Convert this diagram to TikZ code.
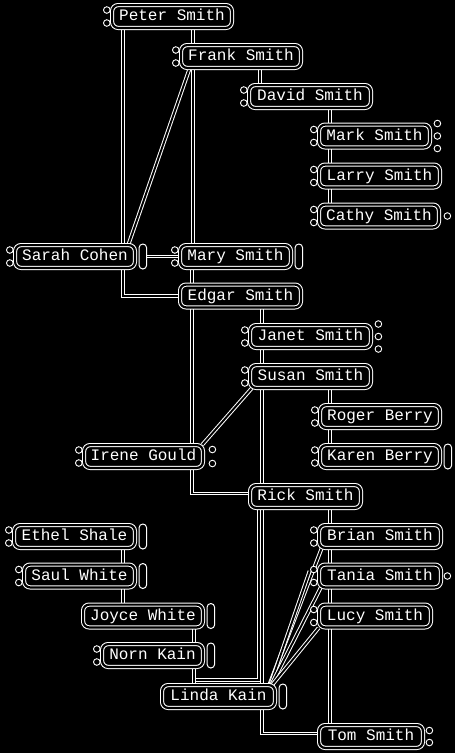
\documentclass[tikz,border=0pt]{standalone}
\usepackage{fontspec}
\newfontfamily\namefont{Liberation Mono}
\usetikzlibrary{positioning}
\usetikzlibrary{calc}
\usetikzlibrary{backgrounds}
\tikzset{
  % A person: double outlined rounded box
  person/.style={
    draw=white, double=black, double distance=2.2pt, line width=1pt,
    fill=black, rounded corners=6pt, inner sep=0pt, text=white,
    font=\namefont\fontsize{16}{18}\selectfont, text height=11pt, text depth=3pt,
    minimum height=22.8pt, minimum width=#1},
  person/.default=120pt,
  % The small rounded bar right of a box
  tab/.style={
    draw=white, line width=1pt, fill=black, rounded corners=3.7pt,
    inner sep=0pt, minimum width=7.5pt, minimum height=25pt},
  % The small circles beside a box
  knob/.style={draw=white, fill=black, line width=0.9pt},
  % Family links
  link/.style={draw=white, double=black, double distance=1.9pt, line width=1pt},
}
\newcommand{\knobsleft}[1]{%
  \draw[knob] ([xshift=-4.8pt,yshift=6.5pt]#1.west) circle (3.3pt);
  \draw[knob] ([xshift=-4.8pt,yshift=-6.5pt]#1.west) circle (3.3pt);}
\newcommand{\knobsright}[3]{%
  \foreach \dy in {#3} \draw[knob] ([xshift=#2,yshift=\dy pt]#1.east) circle (3.3pt);}

\begin{document}
\begin{tikzpicture}[x=1pt, y=-1pt]

  \useasboundingbox (0,0) rectangle (455,753);

  % people
  \node[person=119.8pt] (peter) at (172,16.5)   {Peter Smith};
  \node[person=119.8pt] (frank) at (241,56.5)   {Frank Smith};
  \node[person=121.8pt] (david) at (310,96.5)   {David Smith};
  \node[person=110.8pt] (mark)  at (374.5,136)  {Mark Smith};
  \node[person=120.8pt] (larry) at (379.5,176)  {Larry Smith};
  \node[person=119.8pt] (cathy) at (379,216)    {Cathy Smith};
  \node[person=119.8pt] (sarah) at (75,256.5)   {Sarah Cohen};
  \node[person=110.8pt] (mary)  at (235.5,256.5){Mary Smith};
  \node[person=120.8pt] (edgar) at (240.5,296)  {Edgar Smith};
  \node[person=120.8pt] (janet) at (310.5,336.5){Janet Smith};
  \node[person=120.8pt] (susan) at (310.5,376.5){Susan Smith};
  \node[person=119.8pt] (roger) at (380,416.5)  {Roger Berry};
  \node[person=119.8pt] (karen) at (380,456.5)  {Karen Berry};
  \node[person=118.8pt] (irene) at (143.5,456.5){Irene Gould};
  \node[person=110.8pt] (rick)  at (305.5,496.5){Rick Smith};
  \node[person=120.8pt] (ethel) at (74.5,536.5) {Ethel Shale};
  \node[person=110.8pt] (saul)  at (79.5,576)   {Saul White};
  \node[person=119.8pt] (joyce) at (143,616)    {Joyce White};
  \node[person=100.8pt] (norn)  at (152.5,655.5){Norn Kain};
  \node[person=112.8pt] (linda) at (218.5,696.5){Linda Kain};
  \node[person=121.8pt] (brian) at (380,536.5)  {Brian Smith};
  \node[person=121.8pt] (tania) at (380,576)    {Tania Smith};
  \node[person=111.8pt] (lucy)  at (375,616)    {Lucy Smith};
  \node[person=103.8pt] (tom)   at (371,736.5)  {Tom Smith};

  \node[tab, right=3.2pt of sarah] (sarahtab) {};
  \node[tab, right=3.2pt of mary]  (marytab)  {};
  \node[tab, right=3.2pt of karen] (karentab) {};
  \node[tab, right=3.2pt of ethel] (etheltab) {};
  \node[tab, right=3.2pt of saul]  (saultab)  {};
  \node[tab, right=3.2pt of joyce] (joycetab) {};
  \node[tab, right=3.2pt of norn]  (norntab)  {};
  \node[tab, right=3.2pt of linda] (lindatab) {};

  \begin{scope}[on background layer]
    \fill[black] (0,0) rectangle (455,753);

    % links
    \draw[link] ([xshift=12pt]frank.north west) -- ([xshift=12pt]frank.north west |- peter.south);
    \draw[link] ([xshift=11pt]peter.south west) |- (edgar.west);
    \draw[link] ([xshift=11pt]david.north west) -- ([xshift=11pt]david.north west |- frank.south);
    \draw[link] ([xshift=9pt]frank.south west) -- ([xshift=-7pt]sarah.north east);
    \draw[link] ([xshift=12pt]frank.south west) -- ([xshift=12pt]frank.south west |- mary.north);
    \draw[link] ([xshift=11pt]mark.north west) -- ([xshift=11pt]mark.north west |- david.south);
    \draw[link] ([xshift=11pt]mark.south west) -- ([xshift=11pt]mark.south west |- larry.north);
    \draw[link] ([xshift=11pt]larry.south west) -- ([xshift=11pt]larry.south west |- cathy.north);
    \draw[link] (sarahtab.east) -- (sarahtab.east -| mary.west);
    \draw[link] ([xshift=12pt]mary.south west) -- ([xshift=12pt]mary.south west |- edgar.north);
    \draw[link] ([xshift=12pt]janet.north west) -- ([xshift=12pt]janet.north west |- edgar.south);
    \draw[link] ([xshift=12pt]edgar.south west) -- ([xshift=12pt]edgar.south west |- irene.north);
    \draw[link] ([xshift=12pt]janet.south west) -- ([xshift=12pt]janet.south west |- susan.north);
    \draw[link] ([xshift=2pt]susan.south west) -- ([xshift=-1pt]irene.north east);
    \draw[link] ([xshift=10pt]roger.north west) -- ([xshift=10pt]roger.north west |- susan.south);
    \draw[link] ([xshift=10pt]roger.south west) -- ([xshift=10pt]roger.south west |- karen.north);
    \draw[link] ([xshift=12pt]susan.south west) -- ([xshift=12pt]susan.south west |- rick.north);
    \draw[link] ([xshift=12pt]edgar.south west |- irene.south)
                -- ([xshift=12pt,yshift=3pt]edgar.south west |- rick.west)
                -- ([yshift=3pt]rick.west);
    \draw[link] ([xshift=11pt]brian.north west) -- ([xshift=11pt]brian.north west |- rick.south);
    \draw[link] ([xshift=11pt]brian.south west) -- ([xshift=11pt]brian.south west |- tania.north);
    \draw[link] ([xshift=11pt]tania.south west) -- ([xshift=11pt]tania.south west |- lucy.north);
    \draw[link] ([xshift=11pt]lucy.south west) -- ([xshift=11pt]lucy.south west |- tom.north);
    \draw[link] ([xshift=9pt]rick.south west)
                -- ([xshift=9pt,yshift=4.5pt]rick.south west |- linda.north)
                -- ([xshift=32pt,yshift=4.5pt]linda.north west)
                -- ([xshift=32pt]linda.north west);
    \draw[link] ([xshift=12pt]rick.south west) -- ([xshift=12pt]rick.south west |- linda.north);
    \draw[link] ([xshift=92pt]norn.north west) -- ([xshift=92pt]norn.north west |- joyce.south);
    \draw[link] ([xshift=92pt]norn.south west) -- ([xshift=92pt]norn.south west |- linda.north);
    \draw[link] ([xshift=12pt]rick.south west |- linda.south)
                -- ([xshift=12pt,yshift=3pt]rick.south west |- tom.west)
                -- ([yshift=3pt]tom.west);
    \draw[link] ([xshift=-12pt]saul.north east) -- ([xshift=-12pt]saul.north east |- ethel.south);
    \draw[link] ([xshift=-12pt]saul.south east) -- ([xshift=-12pt]saul.south east |- joyce.north);
    \draw[link] ([xshift=-6pt]linda.north east) -- ([xshift=3pt]brian.south west);
    \draw[link] ([xshift=-5pt]linda.north east) -- ([xshift=-9pt,yshift=-7pt]tania.north west);
    \draw[link] ([xshift=-4pt]linda.north east) -- ([xshift=2pt]tania.south west);
    \draw[link] ([xshift=-3pt]linda.north east) -- (lucy.south west);

    % knobs
    \foreach \p in {peter,frank,david,mark,larry,cathy,sarah,mary,janet,susan,
                    roger,karen,irene,ethel,saul,norn,brian,tania,lucy}
      {\knobsleft{\p}}
    \knobsright{mark}{7pt}{12.5,0,-12.5}
    \knobsright{janet}{7pt}{12.5,0,-12.5}
    \knobsright{irene}{9pt}{7,-7}
    \knobsright{tom}{6pt}{6,-6}
    \knobsright{cathy}{8pt}{0}
    \knobsright{tania}{6pt}{0}
  \end{scope}

\end{tikzpicture}
\end{document}
